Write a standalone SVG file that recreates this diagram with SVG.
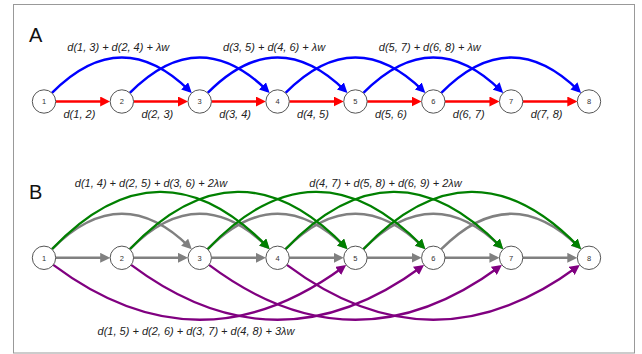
<svg xmlns="http://www.w3.org/2000/svg" width="642" height="354" viewBox="0 0 642 354">
<defs>
<style>
.e{fill:none;stroke-linecap:butt}
.red{stroke:#ff0000;stroke-width:2.5;marker-end:url(#mr)}
.blue{stroke:#0000ff;stroke-width:2.5;marker-end:url(#mb)}
.gray{stroke:#808080;stroke-width:2.5;marker-end:url(#mg)}
.green{stroke:#008000;stroke-width:2.3;marker-end:url(#mgr)}
.purple{stroke:#800080;stroke-width:2.3;marker-end:url(#mp)}
.node circle{fill:#ffffff;stroke:#555555;stroke-width:1}
.node text{font-family:"Liberation Sans",Arial,sans-serif;font-size:7.5px;fill:#333333;text-anchor:middle}
.lbl{font-family:"Liberation Sans",Arial,sans-serif;font-size:11px;font-style:italic;fill:#222222;text-anchor:middle}
.big{font-family:"Liberation Sans",Arial,sans-serif;font-size:20px;fill:#111111}
</style>
<marker id="mr" viewBox="0 0 10 10" refX="7" refY="5" markerWidth="10" markerHeight="10" markerUnits="userSpaceOnUse" orient="auto"><path d="M0,0 L10,5 L0,10 z" fill="#ff0000"/></marker>
<marker id="mb" viewBox="0 0 10 10" refX="7" refY="5" markerWidth="10" markerHeight="10" markerUnits="userSpaceOnUse" orient="auto"><path d="M0,0 L10,5 L0,10 z" fill="#0000ff"/></marker>
<marker id="mg" viewBox="0 0 10 10" refX="7" refY="5" markerWidth="10" markerHeight="10" markerUnits="userSpaceOnUse" orient="auto"><path d="M0,0 L10,5 L0,10 z" fill="#808080"/></marker>
<marker id="mgr" viewBox="0 0 10 10" refX="7" refY="5" markerWidth="10" markerHeight="10" markerUnits="userSpaceOnUse" orient="auto"><path d="M0,0 L10,5 L0,10 z" fill="#008000"/></marker>
<marker id="mp" viewBox="0 0 10 10" refX="7" refY="5" markerWidth="10" markerHeight="10" markerUnits="userSpaceOnUse" orient="auto"><path d="M0,0 L10,5 L0,10 z" fill="#800080"/></marker>
</defs>
<rect x="13.5" y="4.5" width="621" height="348.5" fill="#ffffff" stroke="#999999" stroke-width="1"/>
<text class="big" x="29" y="42">A</text>
<text class="big" x="29" y="198.5">B</text>

<g id="connectors">
<g id="edges-A">
<path class="e red" transform="translate(44,101.5)" d="M11.7,0 H63.16"/>
<path class="e red" transform="translate(121.86,101.5)" d="M11.7,0 H63.16"/>
<path class="e red" transform="translate(199.71,101.5)" d="M11.7,0 H63.16"/>
<path class="e red" transform="translate(277.57,101.5)" d="M11.7,0 H63.16"/>
<path class="e red" transform="translate(355.43,101.5)" d="M11.7,0 H63.16"/>
<path class="e red" transform="translate(433.29,101.5)" d="M11.7,0 H63.16"/>
<path class="e red" transform="translate(511.14,101.5)" d="M11.7,0 H63.16"/>
<path class="e blue" transform="translate(44,101.5)" d="M7.98,-8.56 Q76.81,-78.38 145.63,-10.66"/>
<path class="e blue" transform="translate(121.86,101.5)" d="M7.98,-8.56 Q76.81,-78.38 145.63,-10.66"/>
<path class="e blue" transform="translate(199.71,101.5)" d="M7.98,-8.56 Q76.81,-78.38 145.63,-10.66"/>
<path class="e blue" transform="translate(277.57,101.5)" d="M7.98,-8.56 Q76.81,-78.38 145.63,-10.66"/>
<path class="e blue" transform="translate(355.43,101.5)" d="M7.98,-8.56 Q76.81,-78.38 145.63,-10.66"/>
<path class="e blue" transform="translate(433.29,101.5)" d="M7.98,-8.56 Q76.81,-78.38 145.63,-10.66"/>
</g>
<g id="edges-B">
<path class="e gray" transform="translate(44,257.8)" d="M11.7,0 H63.16"/>
<path class="e gray" transform="translate(121.86,257.8)" d="M11.7,0 H63.16"/>
<path class="e gray" transform="translate(199.71,257.8)" d="M11.7,0 H63.16"/>
<path class="e gray" transform="translate(277.57,257.8)" d="M11.7,0 H63.16"/>
<path class="e gray" transform="translate(355.43,257.8)" d="M11.7,0 H63.16"/>
<path class="e gray" transform="translate(433.29,257.8)" d="M11.7,0 H63.16"/>
<path class="e gray" transform="translate(511.14,257.8)" d="M11.7,0 H63.16"/>
<path class="e gray" transform="translate(44,257.8)" d="M7.98,-8.56 Q76.81,-78.38 145.63,-10.66"/>
<path class="e gray" transform="translate(121.86,257.8)" d="M7.98,-8.56 Q76.81,-78.38 145.63,-10.66"/>
<path class="e gray" transform="translate(199.71,257.8)" d="M7.98,-8.56 Q76.81,-78.38 145.63,-10.66"/>
<path class="e gray" transform="translate(277.57,257.8)" d="M7.98,-8.56 Q76.81,-78.38 145.63,-10.66"/>
<path class="e gray" transform="translate(355.43,257.8)" d="M7.98,-8.56 Q76.81,-78.38 145.63,-10.66"/>
<path class="e gray" transform="translate(433.29,257.8)" d="M7.98,-8.56 Q76.81,-78.38 145.63,-10.66"/>
<path class="e green" transform="translate(44,257.8)" d="M7.90,-8.63 Q115.75,-122.28 223.60,-10.78"/>
<path class="e green" transform="translate(121.86,257.8)" d="M7.90,-8.63 Q115.75,-122.28 223.60,-10.78"/>
<path class="e green" transform="translate(199.71,257.8)" d="M7.90,-8.63 Q115.75,-122.28 223.60,-10.78"/>
<path class="e green" transform="translate(277.57,257.8)" d="M7.90,-8.63 Q115.75,-122.28 223.60,-10.78"/>
<path class="e green" transform="translate(355.43,257.8)" d="M7.90,-8.63 Q115.75,-122.28 223.60,-10.78"/>
<path class="e purple" transform="translate(44,257.8)" d="M9.26,7.15 Q154.51,115.95 299.77,8.94"/>
<path class="e purple" transform="translate(121.86,257.8)" d="M9.26,7.15 Q154.51,115.95 299.77,8.94"/>
<path class="e purple" transform="translate(199.71,257.8)" d="M9.26,7.15 Q154.51,115.95 299.77,8.94"/>
<path class="e purple" transform="translate(277.57,257.8)" d="M9.26,7.15 Q154.51,115.95 299.77,8.94"/>
</g>
</g>

<g id="labels">
<text class="lbl" x="118.3" y="51">d(1, 3) + d(2, 4) + λw</text>
<text class="lbl" x="274.1" y="51">d(3, 5) + d(4, 6) + λw</text>
<text class="lbl" x="429.8" y="51">d(5, 7) + d(6, 8) + λw</text>
<text class="lbl" x="79.4" y="117.5">d(1, 2)</text>
<text class="lbl" x="157.3" y="117.5">d(2, 3)</text>
<text class="lbl" x="235.1" y="117.5">d(3, 4)</text>
<text class="lbl" x="313" y="117.5">d(4, 5)</text>
<text class="lbl" x="390.9" y="117.5">d(5, 6)</text>
<text class="lbl" x="468.7" y="117.5">d(6, 7)</text>
<text class="lbl" x="546.6" y="117.5">d(7, 8)</text>
<text class="lbl" x="151" y="187">d(1, 4) + d(2, 5) + d(3, 6) + 2λw</text>
<text class="lbl" x="385.5" y="187">d(4, 7) + d(5, 8) + d(6, 9) + 2λw</text>
<text class="lbl" x="196" y="335">d(1, 5) + d(2, 6) + d(3, 7) + d(4, 8) + 3λw</text>
</g>

<g id="A1" class="node"><circle cx="44" cy="101.5" r="11.7"/><text x="44" y="104.2">1</text></g>
<g id="A2" class="node"><circle cx="121.86" cy="101.5" r="11.7"/><text x="121.86" y="104.2">2</text></g>
<g id="A3" class="node"><circle cx="199.71" cy="101.5" r="11.7"/><text x="199.71" y="104.2">3</text></g>
<g id="A4" class="node"><circle cx="277.57" cy="101.5" r="11.7"/><text x="277.57" y="104.2">4</text></g>
<g id="A5" class="node"><circle cx="355.43" cy="101.5" r="11.7"/><text x="355.43" y="104.2">5</text></g>
<g id="A6" class="node"><circle cx="433.29" cy="101.5" r="11.7"/><text x="433.29" y="104.2">6</text></g>
<g id="A7" class="node"><circle cx="511.14" cy="101.5" r="11.7"/><text x="511.14" y="104.2">7</text></g>
<g id="A8" class="node"><circle cx="589" cy="101.5" r="11.7"/><text x="589" y="104.2">8</text></g>

<g id="B1" class="node"><circle cx="44" cy="257.8" r="11.7"/><text x="44" y="260.5">1</text></g>
<g id="B2" class="node"><circle cx="121.86" cy="257.8" r="11.7"/><text x="121.86" y="260.5">2</text></g>
<g id="B3" class="node"><circle cx="199.71" cy="257.8" r="11.7"/><text x="199.71" y="260.5">3</text></g>
<g id="B4" class="node"><circle cx="277.57" cy="257.8" r="11.7"/><text x="277.57" y="260.5">4</text></g>
<g id="B5" class="node"><circle cx="355.43" cy="257.8" r="11.7"/><text x="355.43" y="260.5">5</text></g>
<g id="B6" class="node"><circle cx="433.29" cy="257.8" r="11.7"/><text x="433.29" y="260.5">6</text></g>
<g id="B7" class="node"><circle cx="511.14" cy="257.8" r="11.7"/><text x="511.14" y="260.5">7</text></g>
<g id="B8" class="node"><circle cx="589" cy="257.8" r="11.7"/><text x="589" y="260.5">8</text></g>
</svg>
